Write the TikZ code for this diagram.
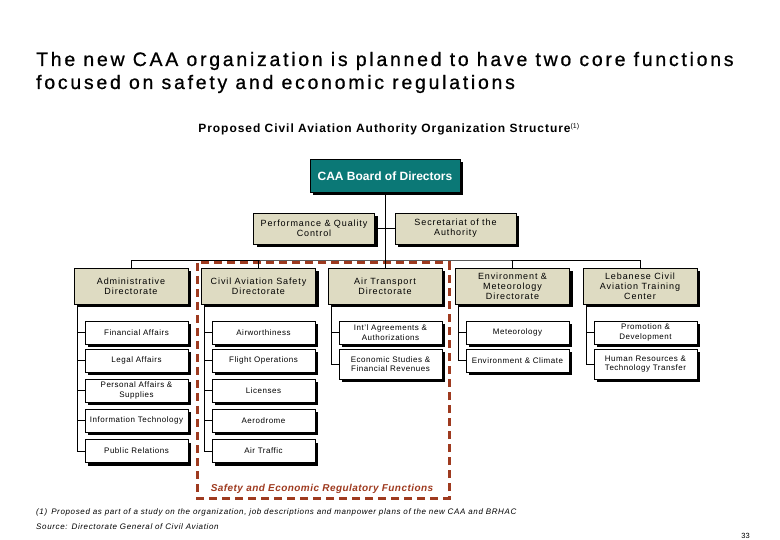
\documentclass[tikz,border=0pt]{standalone}
\usepackage{fontspec}
\setmainfont{Liberation Sans}
\usetikzlibrary{shadows,calc}
\definecolor{teal1}{HTML}{0B7876}
\definecolor{beige}{HTML}{DEDBC2}
\definecolor{rust}{HTML}{9E3A1F}
\begin{document}
\begin{tikzpicture}[x=1pt,y=-1pt,
  shad/.style={general shadow={fill=black, shadow xshift=3pt, shadow yshift=-3pt}},
  boardbox/.style={shad, draw=black, line width=0.6pt, fill=teal1, text=white, font=\fontsize{12}{14}\selectfont\bfseries, minimum width=150pt, minimum height=33pt, inner sep=1pt},
  staffbox/.style={shad, draw=black, line width=0.6pt, fill=beige, font=\fontsize{9}{10}\selectfont\addfontfeature{LetterSpace=10}, minimum width=121pt, minimum height=31pt, align=center, inner sep=1pt},
  dirbox/.style={shad, draw=black, line width=0.6pt, fill=beige, font=\fontsize{9}{10}\selectfont\addfontfeature{LetterSpace=10}, minimum width=114pt, minimum height=36pt, align=center, inner sep=1pt},
  unitbox/.style={shad, draw=black, line width=0.6pt, fill=white, font=\fontsize{8}{9.5}\selectfont\addfontfeature{LetterSpace=6.5}, minimum width=103pt, minimum height=23pt, align=center, inner sep=1pt},
  tallbox/.style={unitbox, minimum height=30pt},
  conn/.style={draw=black, line width=0.6pt},
  regbox/.style={draw=rust, line width=3pt, dash pattern=on 8pt off 5pt},
  titletext/.style={anchor=base west, inner sep=0, font=\fontsize{19.5}{23}\selectfont\addfontfeature{LetterSpace=14,FakeBold=0.8}},
  notetext/.style={anchor=base west, inner sep=0, font=\fontsize{8}{9}\selectfont\itshape\addfontfeature{LetterSpace=8}}
]
\useasboundingbox (0,0) rectangle (780,540);
% titles
\node[titletext] (title) at (36,66) {The new CAA organization is planned to have two core functions};
\node[titletext] (title2) at (36,89) {focused on safety and economic regulations};
\node[anchor=base, inner sep=0, font=\fontsize{12}{14}\selectfont\bfseries\addfontfeature{LetterSpace=8}] (sub) at (389,133) {Proposed Civil Aviation Authority Organization Structure\textsuperscript{\normalfont\fontsize{7}{8}\selectfont(1)}};

% regulatory dashed box
\draw[regbox] (197,263) rectangle (449,498);
\node[font=\fontsize{10}{12}\selectfont\bfseries\itshape\addfontfeature{LetterSpace=4.5}, text=rust, inner sep=0] (reg) at (322,489) {Safety and Economic Regulatory Functions};

% board & staff
\node[boardbox] (board) at (385,176) {CAA Board of Directors};
\node[staffbox] (pqc) at (314,228.5) {Performance \& Quality\\Control};
\node[staffbox] (sec) at (455.5,228.5) {Secretariat of the\\Authority};
\coordinate (bar) at (385,260);

% directorates
\node[dirbox] (adm) at (131,286) {Administrative\\Directorate};
\node[dirbox] (cas) at (258.5,286) {Civil Aviation Safety\\Directorate};
\node[dirbox] (atd) at (385,286) {Air Transport\\Directorate};
\node[dirbox] (env) at (512.5,286) {Environment \&\\Meteorology\\Directorate};
\node[dirbox] (leb) at (640,286) {Lebanese Civil\\Aviation Training\\Center};

% units
\node[unitbox] (a1) at (136.5,332.5) {Financial Affairs};
\node[unitbox] (a2) at (136.5,360.5) {Legal Affairs};
\node[unitbox] (a3) at (136.5,390.5) {Personal Affairs \&\\Supplies};
\node[unitbox] (a4) at (136.5,420.5) {Information Technology};
\node[unitbox] (a5) at (136.5,451) {Public Relations};

\node[unitbox] (c1) at (263.5,332.5) {Airworthiness};
\node[unitbox] (c2) at (263.5,360.5) {Flight Operations};
\node[unitbox] (c3) at (263.5,390.5) {Licenses};
\node[unitbox] (c4) at (263.5,420.5) {Aerodrome};
\node[unitbox] (c5) at (263.5,451) {Air Traffic};

\node[unitbox] (t1) at (390.5,332.5) {Int'l Agreements \&\\Authorizations};
\node[tallbox] (t2) at (390.5,364) {Economic Studies \&\\Financial Revenues};

\node[unitbox] (e1) at (517.5,332.5) {Meteorology};
\node[unitbox] (e2) at (517.5,360.5) {Environment \& Climate};

\node[unitbox] (l1) at (645.5,332.5) {Promotion \&\\Development};
\node[tallbox] (l2) at (645.5,364) {Human Resources \&\\Technology Transfer};

% connectors
\draw[conn] (board.south) -- (bar);
\draw[conn] (pqc.east) -- (sec.west);
\draw[conn] (adm.north) |- (bar) -| (leb.north);
\draw[conn] (cas.north) -- (cas.north |- bar);
\draw[conn] (atd.north) -- (bar);
\draw[conn] (env.north) -- (env.north |- bar);
\foreach \p/\c in {adm/a1,adm/a2,adm/a3,adm/a4,adm/a5,cas/c1,cas/c2,cas/c3,cas/c4,cas/c5,atd/t1,atd/t2,env/e1,env/e2,leb/l1,leb/l2}
  \draw[conn] ([xshift=3.5pt]\p.south west) |- (\c.west);

% footnotes
\node[notetext] (fn1) at (36,514) {(1)\enspace Proposed as part of a study on the organization, job descriptions and manpower plans of the new CAA and BRHAC};
\node[notetext] (fn2) at (36,529) {Source:\enspace Directorate General of Civil Aviation};
\node[anchor=base east, inner sep=0, font=\fontsize{7.5}{9}\selectfont] (pg) at (750,538) {33};
\end{tikzpicture}
\end{document}
